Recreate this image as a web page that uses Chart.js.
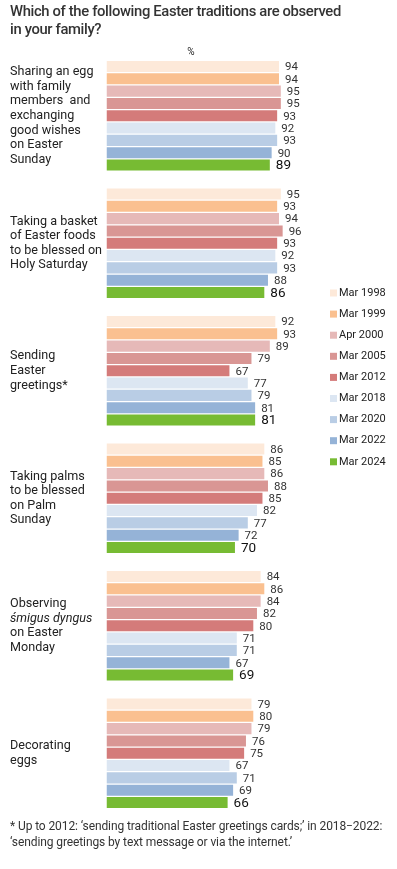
<!DOCTYPE html>
<html>
<head>
<meta charset="utf-8">
<script src="https://cdn.jsdelivr.net/npm/chart.js@4"></script>
<style>
  body { margin: 0; background: #fff; font-family: Roboto, "Noto Sans", sans-serif; }
  #wrap { position: relative; width: 397px; height: 869px; overflow: hidden; }
  #chart { position: absolute; left: 0; top: 0; }
  .title { position: absolute; left: 10px; top: 3px; font-size: 14.8px; font-weight: 500; color: #333; line-height: 17.5px; letter-spacing: -0.35px; }
  .note { position: absolute; left: 10px; top: 819px; font-size: 12px; color: #333; line-height: 15.5px; letter-spacing: -0.1px; white-space: nowrap; }
</style>
</head>
<body>
<div id="wrap">
  <canvas id="chart" width="397" height="869"></canvas>
  <div class="title">Which of the following Easter traditions are observed<br>in your family?</div>
  <div class="note">* Up to 2012: ‘sending traditional Easter greetings cards;’ in 2018−2022:<br>‘sending greetings by text message or via the internet.’</div>
</div>
<script>
const categorias = [
    ["Sharing an egg", "with family", "members  and", "exchanging", "good wishes", "on Easter", "Sunday"],
    ["Taking a basket", "of Easter foods", "to be blessed on", "Holy Saturday"],
    ["Sending", "Easter", "greetings*"],
    ["Taking palms", "to be blessed", "on Palm", "Sunday"],
    ["Observing", "śmigus dyngus", "on Easter", "Monday"],
    ["Decorating", "eggs"]
];
const lineasCursiva = ["śmigus dyngus"];

const encuestas = ["Mar 1998", "Mar 1999", "Apr 2000", "Mar 2005", "Mar 2012", "Mar 2018", "Mar 2020", "Mar 2022", "Mar 2024"];
const mar1998 = [94, 95, 92, 86, 84, 79];
const mar1999 = [94, 93, 93, 85, 86, 80];
const apr2000 = [95, 94, 89, 86, 84, 79];
const mar2005 = [95, 96, 79, 88, 82, 76];
const mar2012 = [93, 93, 67, 85, 80, 75];
const mar2018 = [92, 92, 77, 82, 71, 67];
const mar2020 = [93, 93, 79, 77, 71, 71];
const mar2022 = [90, 88, 81, 72, 67, 69];
const mar2024 = [89, 86, 81, 70, 69, 66];
const colores = ["#fde9d9", "#fac090", "#e6b9b8", "#d99694", "#d47b7a", "#dce6f2", "#b9cde5", "#95b3d7", "#77bb33"];

const series = [mar1998, mar1999, apr2000, mar2005, mar2012, mar2018, mar2020, mar2022, mar2024];

// textos dibujados a mano: etiquetas de categoria, valores y leyenda
const textos = {
    id: "textos",
    afterDatasetsDraw(chart) {
        const ctx = chart.ctx;
        const escalaY = chart.scales.y;
        ctx.save();
        ctx.textBaseline = "middle";

        // etiquetas de categoria
        ctx.fillStyle = "#222";
        ctx.textAlign = "left";
        categorias.forEach((lineas, i) => {
            const centro = escalaY.getPixelForValue(i);
            const alto = 14.6;
            const y0 = centro - (lineas.length - 1) * alto / 2;
            lineas.forEach((linea, j) => {
                const cursiva = lineasCursiva.includes(linea) ? "italic " : "";
                ctx.font = cursiva + "12.6px Roboto";
                ctx.fillText(linea, 10, y0 + j * alto);
            });
        });

        // valores al final de cada barra
        chart.data.datasets.forEach((ds, d) => {
            const ultimo = d === chart.data.datasets.length - 1;
            ctx.font = ultimo ? "13.5px Roboto" : "11.5px Roboto";
            ctx.fillStyle = ultimo ? "#111" : "#333";
            chart.getDatasetMeta(d).data.forEach((barra, i) => {
                ctx.fillText(ds.data[i], barra.x + 6, barra.y + 1);
            });
        });

        // leyenda
        ctx.font = "11px Roboto";
        chart.data.datasets.forEach((ds, d) => {
            const y = 293 + d * 21.1;
            ctx.fillStyle = ds.backgroundColor;
            ctx.fillRect(330, y - 3.5, 7, 7);
            ctx.fillStyle = "#222";
            ctx.fillText(ds.label, 339, y);
        });

        // unidad
        ctx.font = "10px Roboto";
        ctx.textAlign = "center";
        ctx.fillText("%", 191, 52);
        ctx.restore();
    }
};

new Chart(document.getElementById("chart"), {
    type: "bar",
    data: {
        labels: categorias.map(c => c.join(" ")),
        datasets: series.map((datos, i) => ({
            label: encuestas[i],
            data: datos,
            backgroundColor: colores[i],
            categoryPercentage: 0.87,
            barPercentage: 0.9
        }))
    },
    options: {
        indexAxis: "y",
        responsive: false,
        animation: false,
        devicePixelRatio: 1,
        layout: { padding: { left: 106.5, right: 107, top: 52, bottom: 52 } },
        scales: {
            x: { display: false, min: 0, max: 100 },
            y: { display: false }
        },
        plugins: {
            legend: { display: false },
            tooltip: { enabled: false }
        }
    },
    plugins: [textos]
});
</script>
</body>
</html>
